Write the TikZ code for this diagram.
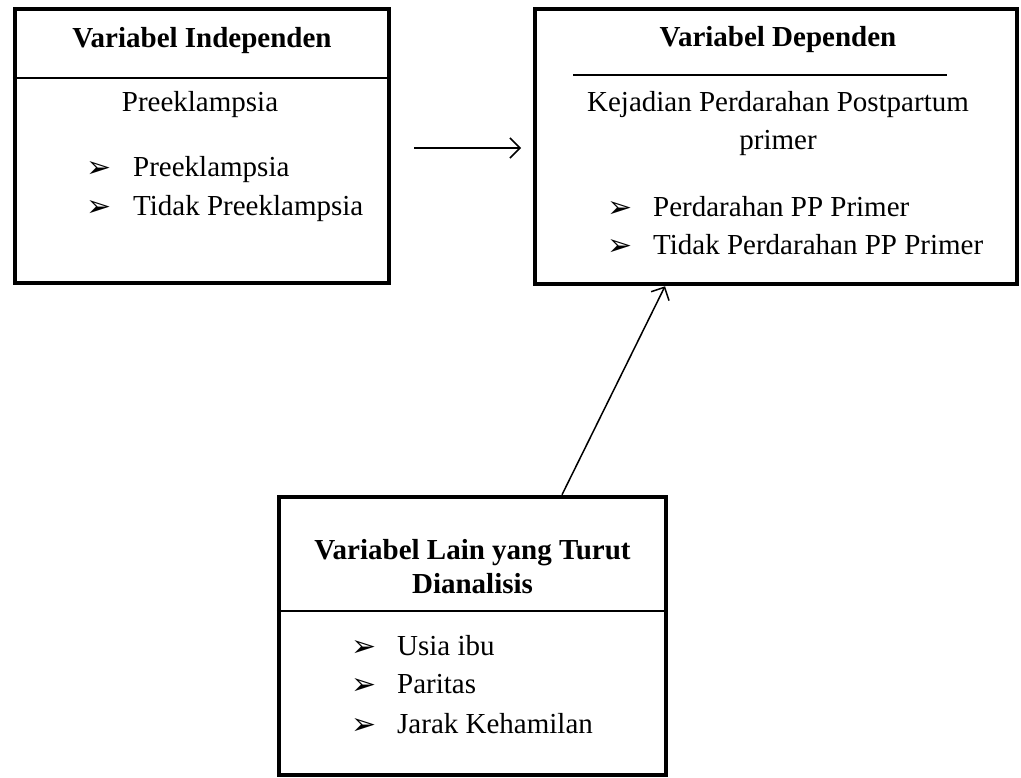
\documentclass[tikz,border=0pt]{standalone}
\usepackage{fontspec}
\setmainfont{Liberation Serif}
\newfontfamily\symfont{DejaVu Sans}
\usetikzlibrary{arrows.meta}
\begin{document}
\begin{tikzpicture}[x=1pt,y=-1pt,
  box/.style={draw, line width=4.5pt, inner sep=0pt},
  txt/.style={font=\fontsize{29}{36}\selectfont, inner sep=0pt},
  ttl/.style={font=\fontsize{29}{34}\selectfont\bfseries, inner sep=0pt, anchor=base},
  item/.style={txt, anchor=base west},
  ctr/.style={txt, anchor=base},
  bul/.style={font=\symfont\fontsize{30}{36}\selectfont, inner sep=0pt, anchor=base west},
  divider/.style={line width=1.5pt},
  conn/.style={line width=1.5pt, -{Straight Barb[length=10pt,width=20pt,line width=1.5pt]}}
]
\useasboundingbox (0,0) rectangle (1021,778);
% boxes
\node[box, minimum width=374pt, minimum height=274pt] (indep) at (202,146) {};
\node[box, minimum width=482pt, minimum height=275pt] (dep) at (776,146.5) {};
\node[box, minimum width=387pt, minimum height=278pt] (other) at (472.5,636) {};
% dividers
\coordinate (d1) at (0,78);
\draw[divider] (indep.west |- d1) -- (indep.east |- d1);
\coordinate (d2a) at (573,75);
\coordinate (d2b) at (947,75);
\draw[divider] (d2a) -- (d2b);
\coordinate (d3) at (0,611);
\draw[divider] (other.west |- d3) -- (other.east |- d3);
% box 1 texts
\node[ttl] (t1) at (202,48) {Variabel Independen};
\node[ctr] (s1) at (200,112) {Preeklampsia};
\node[bul] (b11) at (86,178) {➢};
\node[item] (i11) at (133,177) {Preeklampsia};
\node[bul] (b12) at (86,217) {➢};
\node[item] (i12) at (133,216) {Tidak Preeklampsia};
% box 2 texts
\node[ttl] (t2) at (778,47) {Variabel Dependen};
\node[ctr] (s2) at (778,112) {Kejadian Perdarahan Postpartum};
\node[ctr] (s2b) at (778,150) {primer};
\node[bul] (b21) at (607,218) {➢};
\node[item] (i21) at (653,217) {Perdarahan PP Primer};
\node[bul] (b22) at (607,256) {➢};
\node[item] (i22) at (653,255) {Tidak Perdarahan PP Primer};
% box 3 texts
\node[ttl] (t3) at (472.5,559) {Variabel Lain yang Turut};
\node[ttl] (t3b) at (472.5,593) {Dianalisis};
\node[bul] (b31) at (351,656) {➢};
\node[item] (i31) at (397,655) {Usia ibu};
\node[bul] (b32) at (351,694) {➢};
\node[item] (i32) at (397,693) {Paritas};
\node[bul] (b33) at (351,734) {➢};
\node[item] (i33) at (397,733) {Jarak Kehamilan};
% connectors
\coordinate (a1s) at (414,148);
\coordinate (a1e) at (521,148);
\draw[conn] (a1s) -- (a1e);
\coordinate (a2x) at (562,0);
\coordinate (a2t) at (665,0);
\draw[conn] (other.north -| a2x) -- (dep.south -| a2t);
\end{tikzpicture}
\end{document}
